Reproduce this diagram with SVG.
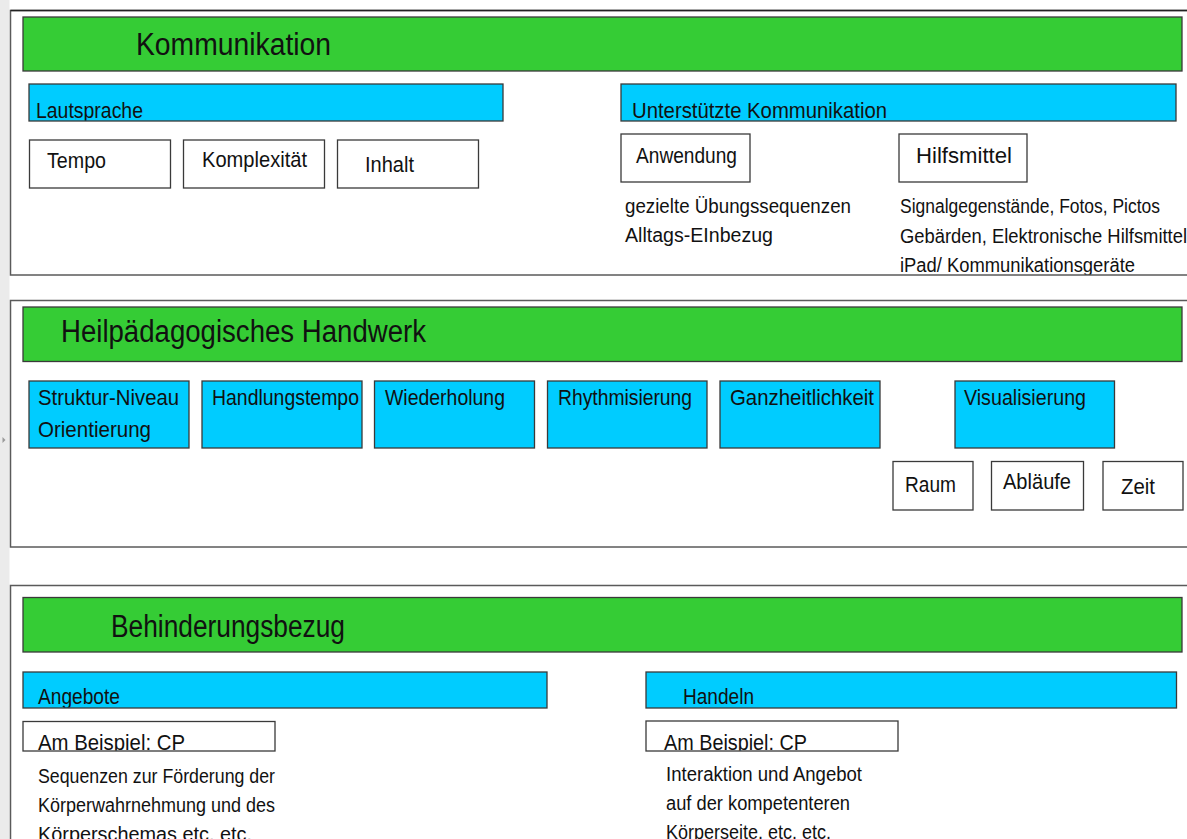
<svg xmlns="http://www.w3.org/2000/svg" width="1187" height="839" viewBox="0 0 1187 839">
<style>
  text { font-family: "Liberation Sans", Arial, sans-serif; fill: #111; }
  .sec { fill: #fff; stroke: #5a5a5a; stroke-width: 1.5; }
  .green { fill: #35cc35; stroke: #3a3a3a; stroke-width: 1.3; }
  .blue { fill: #00ccff; stroke: #3a3a3a; stroke-width: 1.3; }
  .white { fill: #fff; stroke: #3a3a3a; stroke-width: 1.3; }
  .t { font-size: 31px; }
  .l { font-size: 22.5px; }
  .b { font-size: 20px; }
</style>
<defs>
  <clipPath id="c-sec1"><rect x="0" y="0" width="1187" height="274.5"/></clipPath>
  <clipPath id="c-laut"><rect x="29" y="84" width="474" height="36.5"/></clipPath>
  <clipPath id="c-uk"><rect x="621" y="84" width="555" height="36.5"/></clipPath>
  <clipPath id="c-ang"><rect x="23" y="672" width="524" height="35.5"/></clipPath>
  <clipPath id="c-han"><rect x="646" y="672" width="530" height="35.5"/></clipPath>
  <clipPath id="c-bsp1"><rect x="23" y="721" width="252" height="29.5"/></clipPath>
  <clipPath id="c-bsp2"><rect x="646" y="721" width="252" height="29.5"/></clipPath>
</defs>

<rect x="0" y="0" width="1187" height="839" fill="#fff"/>
<rect x="0" y="0" width="9.5" height="839" fill="#ebebeb"/>
<polygon points="2.5,437 5.5,440 2.5,443" fill="#9a9a9a"/>

<!-- Section 1: Kommunikation -->
<g id="section-kommunikation">
  <rect class="sec" x="10.5" y="10.5" width="1200" height="264.5"/>
  <line x1="10.5" y1="10.5" x2="1187" y2="10.5" stroke="#222" stroke-width="1.5"/>
  <g id="kommunikation">
    <rect class="green" x="23" y="17" width="1159" height="54"/>
    <text class="t" x="136" y="55" textLength="195" lengthAdjust="spacingAndGlyphs">Kommunikation</text>
  </g>
  <g id="lautsprache">
    <rect class="blue" x="29" y="84" width="474" height="37"/>
    <text class="l" x="36" y="118" textLength="107" lengthAdjust="spacingAndGlyphs" clip-path="url(#c-laut)">Lautsprache</text>
  </g>
  <g id="tempo">
    <rect class="white" x="29.5" y="140" width="141" height="48"/>
    <text class="l" x="47" y="168" textLength="59" lengthAdjust="spacingAndGlyphs">Tempo</text>
  </g>
  <g id="komplexitaet">
    <rect class="white" x="183.5" y="140" width="141" height="48"/>
    <text class="l" x="202" y="167" textLength="105" lengthAdjust="spacingAndGlyphs">Komplexität</text>
  </g>
  <g id="inhalt">
    <rect class="white" x="337.5" y="140" width="141" height="48"/>
    <text class="l" x="365" y="172" textLength="49" lengthAdjust="spacingAndGlyphs">Inhalt</text>
  </g>
  <g id="unterstuetzte-kommunikation">
    <rect class="blue" x="621" y="84" width="555" height="37"/>
    <text class="l" x="632" y="118" textLength="255" lengthAdjust="spacingAndGlyphs" clip-path="url(#c-uk)">Unterstützte Kommunikation</text>
  </g>
  <g id="anwendung">
    <rect class="white" x="621" y="134" width="129" height="48"/>
    <text class="l" x="636" y="163" textLength="101" lengthAdjust="spacingAndGlyphs">Anwendung</text>
    <text class="b" x="625" y="213" textLength="226" lengthAdjust="spacingAndGlyphs">gezielte Übungssequenzen</text>
    <text class="b" x="625" y="242" textLength="148" lengthAdjust="spacingAndGlyphs">Alltags-EInbezug</text>
  </g>
  <g id="hilfsmittel" clip-path="url(#c-sec1)">
    <rect class="white" x="899" y="134" width="128" height="48"/>
    <text class="l" x="916" y="163" textLength="96" lengthAdjust="spacingAndGlyphs">Hilfsmittel</text>
    <text class="b" x="900" y="213" textLength="260" lengthAdjust="spacingAndGlyphs">Signalgegenstände, Fotos, Pictos</text>
    <text class="b" x="900" y="243" textLength="287" lengthAdjust="spacingAndGlyphs">Gebärden, Elektronische Hilfsmittel</text>
    <text class="b" x="900" y="272" textLength="235" lengthAdjust="spacingAndGlyphs">iPad/ Kommunikationsgeräte</text>
  </g>
</g>

<!-- Section 2: Heilpädagogisches Handwerk -->
<g id="section-handwerk">
  <rect class="sec" x="10.5" y="300.5" width="1200" height="246.5"/>
  <g id="handwerk">
    <rect class="green" x="23" y="307" width="1159" height="54.5"/>
    <text class="t" x="61" y="342" textLength="365" lengthAdjust="spacingAndGlyphs">Heilpädagogisches Handwerk</text>
  </g>
  <g id="struktur">
    <rect class="blue" x="29" y="381" width="160" height="67"/>
    <text class="l" x="38" y="405" textLength="141" lengthAdjust="spacingAndGlyphs">Struktur-Niveau</text>
    <text class="l" x="38" y="437" textLength="113" lengthAdjust="spacingAndGlyphs">Orientierung</text>
  </g>
  <g id="handlungstempo">
    <rect class="blue" x="202" y="381" width="160" height="67"/>
    <text class="l" x="212" y="405" textLength="147" lengthAdjust="spacingAndGlyphs">Handlungstempo</text>
  </g>
  <g id="wiederholung">
    <rect class="blue" x="374.5" y="381" width="160" height="67"/>
    <text class="l" x="385" y="405" textLength="120" lengthAdjust="spacingAndGlyphs">Wiederholung</text>
  </g>
  <g id="rhythmisierung">
    <rect class="blue" x="547.5" y="381" width="159.5" height="67"/>
    <text class="l" x="558" y="405" textLength="134" lengthAdjust="spacingAndGlyphs">Rhythmisierung</text>
  </g>
  <g id="ganzheitlichkeit">
    <rect class="blue" x="720" y="381" width="160" height="67"/>
    <text class="l" x="730" y="405" textLength="144" lengthAdjust="spacingAndGlyphs">Ganzheitlichkeit</text>
  </g>
  <g id="visualisierung">
    <rect class="blue" x="955" y="381" width="159.5" height="67"/>
    <text class="l" x="964" y="405" textLength="122" lengthAdjust="spacingAndGlyphs">Visualisierung</text>
  </g>
  <g id="raum">
    <rect class="white" x="893" y="461.5" width="80" height="48.5"/>
    <text class="l" x="905" y="492" textLength="51" lengthAdjust="spacingAndGlyphs">Raum</text>
  </g>
  <g id="ablaeufe">
    <rect class="white" x="991.5" y="461.5" width="92" height="48.5"/>
    <text class="l" x="1003" y="489" textLength="68" lengthAdjust="spacingAndGlyphs">Abläufe</text>
  </g>
  <g id="zeit">
    <rect class="white" x="1103" y="461.5" width="80" height="48.5"/>
    <text class="l" x="1121" y="494" textLength="34" lengthAdjust="spacingAndGlyphs">Zeit</text>
  </g>
</g>

<!-- Section 3: Behinderungsbezug -->
<g id="section-behinderungsbezug">
  <rect class="sec" x="10.5" y="585.5" width="1200" height="300"/>
  <g id="behinderungsbezug">
    <rect class="green" x="23" y="597.5" width="1159" height="54.5"/>
    <text class="t" x="111" y="637" textLength="234" lengthAdjust="spacingAndGlyphs">Behinderungsbezug</text>
  </g>
  <g id="angebote">
    <rect class="blue" x="23" y="672" width="524" height="36"/>
    <text class="l" x="38" y="703.5" textLength="82" lengthAdjust="spacingAndGlyphs" clip-path="url(#c-ang)">Angebote</text>
  </g>
  <g id="beispiel-angebote">
    <rect class="white" x="23" y="721.5" width="252" height="29.5"/>
    <text class="l" x="38" y="750" textLength="147" lengthAdjust="spacingAndGlyphs" clip-path="url(#c-bsp1)">Am Beispiel: CP</text>
    <text class="b" x="38" y="783" textLength="237" lengthAdjust="spacingAndGlyphs">Sequenzen zur Förderung der</text>
    <text class="b" x="38" y="812" textLength="237" lengthAdjust="spacingAndGlyphs">Körperwahrnehmung und des</text>
    <text class="b" x="38" y="841" textLength="214" lengthAdjust="spacingAndGlyphs">Körperschemas etc. etc.</text>
  </g>
  <g id="handeln">
    <rect class="blue" x="646" y="672" width="530.5" height="36"/>
    <text class="l" x="683" y="704" textLength="71" lengthAdjust="spacingAndGlyphs" clip-path="url(#c-han)">Handeln</text>
  </g>
  <g id="beispiel-handeln">
    <rect class="white" x="646" y="721" width="252" height="30"/>
    <text class="l" x="664" y="749.5" textLength="143" lengthAdjust="spacingAndGlyphs" clip-path="url(#c-bsp2)">Am Beispiel: CP</text>
    <text class="b" x="666" y="781" textLength="196" lengthAdjust="spacingAndGlyphs">Interaktion und Angebot</text>
    <text class="b" x="666" y="810" textLength="184" lengthAdjust="spacingAndGlyphs">auf der kompetenteren</text>
    <text class="b" x="666" y="839" textLength="165" lengthAdjust="spacingAndGlyphs">Körperseite, etc. etc.</text>
  </g>
</g>

<g id="connectors"/>
</svg>
